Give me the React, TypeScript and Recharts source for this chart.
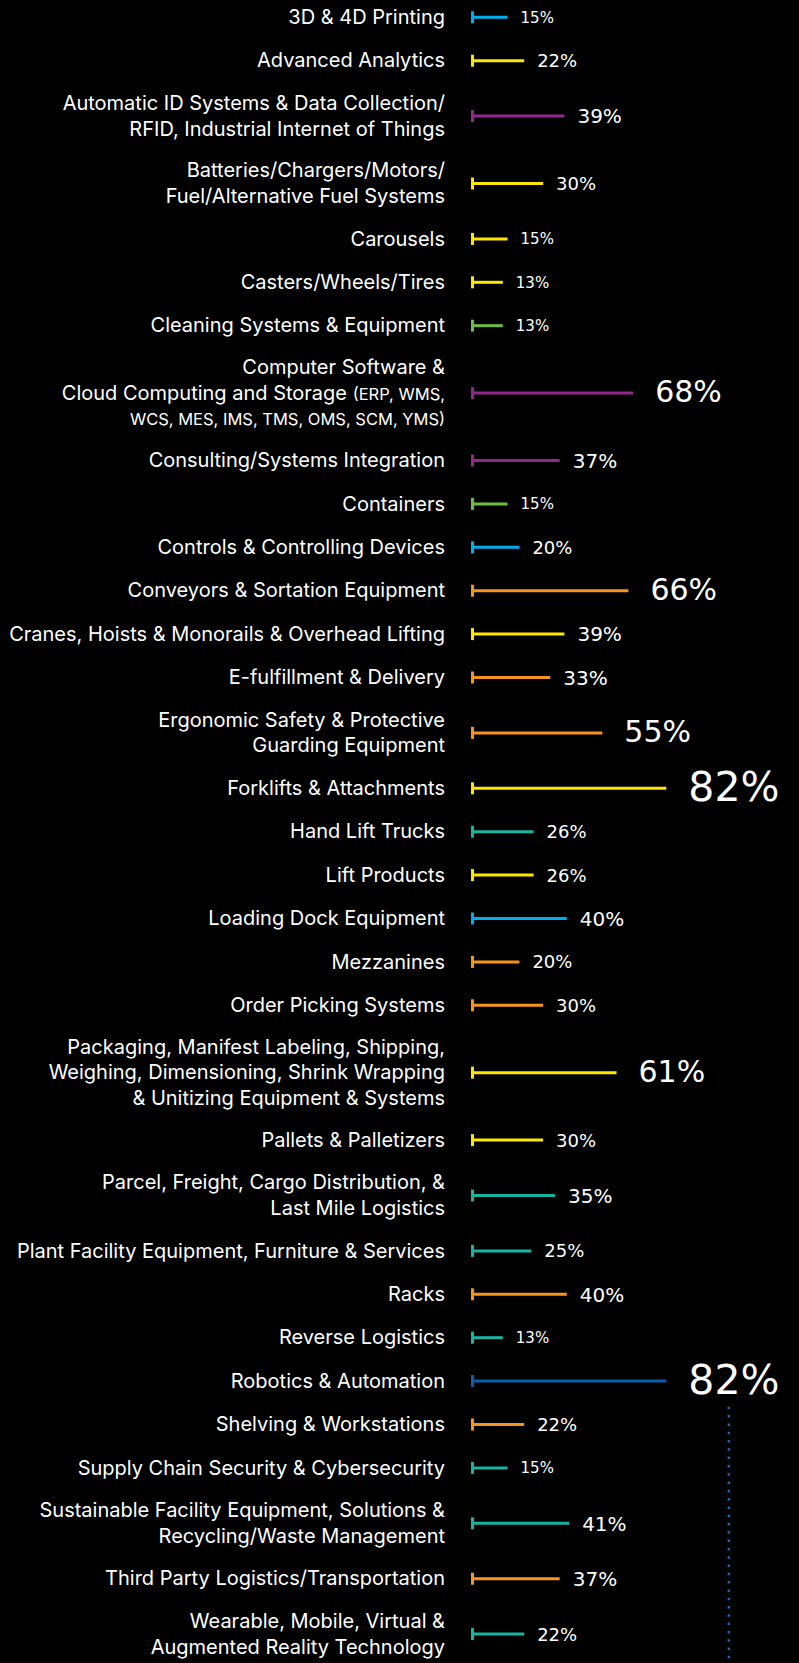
import React from 'react';
import { BarChart, Bar, XAxis, YAxis, Cell, LabelList, ReferenceLine } from 'recharts';

// Category labels ("\n" = line break, {...} = smaller text)
const categories: string[] = [
  '3D & 4D Printing',
  'Advanced Analytics',
  'Automatic ID Systems & Data Collection/\nRFID, Industrial Internet of Things',
  'Batteries/Chargers/Motors/\nFuel/Alternative Fuel Systems',
  'Carousels',
  'Casters/Wheels/Tires',
  'Cleaning Systems & Equipment',
  'Computer Software &\nCloud Computing and Storage {(ERP, WMS,}\n{WCS, MES, IMS, TMS, OMS, SCM, YMS)}',
  'Consulting/Systems Integration',
  'Containers',
  'Controls & Controlling Devices',
  'Conveyors & Sortation Equipment',
  'Cranes, Hoists & Monorails & Overhead Lifting',
  'E-fulfillment & Delivery',
  'Ergonomic Safety & Protective\nGuarding Equipment',
  'Forklifts & Attachments',
  'Hand Lift Trucks',
  'Lift Products',
  'Loading Dock Equipment',
  'Mezzanines',
  'Order Picking Systems',
  'Packaging, Manifest Labeling, Shipping,\nWeighing, Dimensioning, Shrink Wrapping\n& Unitizing Equipment & Systems',
  'Pallets & Palletizers',
  'Parcel, Freight, Cargo Distribution, &\nLast Mile Logistics',
  'Plant Facility Equipment, Furniture & Services',
  'Racks',
  'Reverse Logistics',
  'Robotics & Automation',
  'Shelving & Workstations',
  'Supply Chain Security & Cybersecurity',
  'Sustainable Facility Equipment, Solutions &\nRecycling/Waste Management',
  'Third Party Logistics/Transportation',
  'Wearable, Mobile, Virtual &\nAugmented Reality Technology',
];

// Percentage values
const percentages: number[] = [
  15, 22, 39, 30, 15, 13, 13, 68, 37, 15, 20, 66, 39, 33, 55, 82, 26,
  26, 40, 20, 30, 61, 30, 35, 25, 40, 13, 82, 22, 15, 41, 37, 22,
];

// Styles (colour per row)
const CYAN = '#00AEEF';
const YELLOW = '#FFE600';
const PURPLE = '#93278F';
const GREEN = '#6DBE45';
const ORANGE = '#F7941D';
const TEAL = '#16B4A1';
const BLUE = '#0B5CAD';
const barColors: string[] = [
  CYAN, YELLOW, PURPLE, YELLOW, YELLOW, YELLOW, GREEN, PURPLE, PURPLE, GREEN,
  CYAN, ORANGE, YELLOW, ORANGE, ORANGE, YELLOW, TEAL, YELLOW, CYAN, ORANGE,
  ORANGE, YELLOW, YELLOW, TEAL, TEAL, ORANGE, TEAL, BLUE, ORANGE, TEAL,
  TEAL, ORANGE, TEAL,
];

// Layout: row spacing derived from the number of label lines
const W = 799;
const H = 1663;
const FIRST_ROW = 17;
const ROW_BASE = 19.4;
const ROW_PER_LINE = 12;
const LINE_H = 25.5;
const lineCounts = categories.map((c) => c.split('\n').length);
const rowPositions: number[] = [];
lineCounts.forEach((n, i) => {
  if (i === 0) rowPositions.push(FIRST_ROW);
  else rowPositions.push(rowPositions[i - 1] + ROW_BASE + ROW_PER_LINE * (lineCounts[i - 1] + n));
});

const data = categories.map((name, i) => ({ name, value: percentages[i], row: rowPositions[i] }));

const findRow = (v: number) => rowPositions.findIndex((p) => Math.abs(p - v) < 0.01);

const LABEL_FONT = 'Inter, Roboto, sans-serif';
const PCT_FONT = '"DejaVu Sans", sans-serif';

const CategoryTick = (props: any) => {
  const { x, y, payload } = props;
  const idx = findRow(payload.value);
  if (idx < 0) return null;
  const lines = categories[idx].split('\n');
  const n = lines.length;
  return (
    <g>
      {lines.map((line, k) => {
        const cy = y + (k - (n - 1) / 2) * LINE_H;
        const parts = line.split(/(\{[^}]*\})/).filter((s) => s.length > 0);
        return (
          <text key={k} x={x} y={cy + 7} textAnchor="end" fill="#ffffff" fontFamily={LABEL_FONT} fontSize={20}>
            {parts.map((p, j) =>
              p.startsWith('{') ? (
                <tspan key={j} fontSize={16.5}>{p.slice(1, -1)}</tspan>
              ) : (
                <tspan key={j}>{p}</tspan>
              )
            )}
          </text>
        );
      })}
    </g>
  );
};

const pctSize = (v: number) => (v <= 15 ? 15 : v <= 30 ? 18 : v < 50 ? 20 : v < 80 ? 30 : 41);

const PercentLabel = (props: any) => {
  const { x, y, width, height, value } = props;
  const fs = pctSize(value);
  const gap = value >= 50 ? 22 : 13;
  const cy = y + height / 2;
  return (
    <text x={x + width + gap} y={cy + fs * 0.365 - (value >= 50 ? 2 : 0)} fill="#ffffff" fontFamily={PCT_FONT} fontSize={fs}>
      {value}%
    </text>
  );
};

const BarShape = (props: any) => {
  const { x, y, width, height, fill } = props;
  const cy = y + height / 2;
  return (
    <g>
      <line x1={x} x2={x + width} y1={cy} y2={cy} stroke={fill} strokeWidth={3} />
      <rect x={x - 1} y={cy - 6} width={3} height={12} fill={fill} />
    </g>
  );
};

const roboticsRow = rowPositions[categories.indexOf('Robotics & Automation')];

export default function App() {
  return (
    <div style={{ position: 'absolute', left: 0, top: 0, width: W, height: H, background: '#000', overflow: 'hidden' }}>
      <BarChart width={W} height={H} layout="vertical" data={data} margin={{ top: 0, right: 0, bottom: 0, left: 0 }}>
        <XAxis type="number" domain={[0, 138]} hide />
        <YAxis
          type="number"
          dataKey="row"
          domain={[0, H]}
          ticks={rowPositions}
          interval={0}
          width={472}
          tickSize={0}
          tickMargin={27}
          axisLine={false}
          tickLine={false}
          tick={<CategoryTick />}
        />
        <ReferenceLine
          segment={[{ x: 108.4, y: roboticsRow + 26 }, { x: 108.4, y: H }]}
          stroke="#1863BA"
          strokeWidth={2.5}
          strokeDasharray="2.5 5.8"
          ifOverflow="visible"
        />
        <Bar dataKey="value" barSize={12} shape={<BarShape />} isAnimationActive={false}>
          {data.map((d, i) => (
            <Cell key={i} fill={barColors[i]} />
          ))}
          <LabelList dataKey="value" content={<PercentLabel />} />
        </Bar>
      </BarChart>
    </div>
  );
}
